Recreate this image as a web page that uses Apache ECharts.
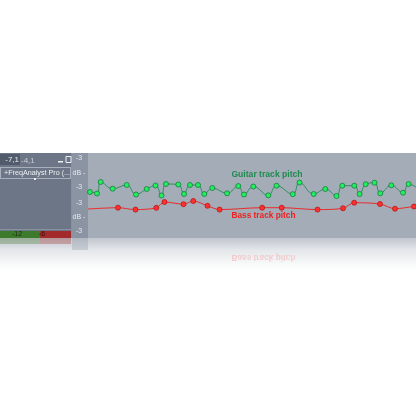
<!DOCTYPE html>
<html><head><meta charset="utf-8">
<script src="https://cdn.jsdelivr.net/npm/echarts@6/dist/echarts.min.js"></script>
<style>html,body{margin:0;padding:0;background:#fff}#c{width:416px;height:416px}</style>
</head><body><div id="c"></div>
<script>
// time positions (arbitrary units) and pitch values (arbitrary units)
var guitarTime  = [0, 2, 9, 12.7, 24.7, 38.7, 48, 58.7, 67.5, 73.5, 78, 90.3, 96, 102, 110, 116.3, 124.3, 139, 150.3, 156, 165.3, 180.3, 188.5, 204.8, 211.5, 225.7, 237.3, 248.5, 254.3, 266.3, 271.6, 277.7, 286.5, 292.3, 303.3, 315, 320.6, 328];
var guitarPitch = [44.5, 45, 43.5, 55, 48.3, 52, 42.5, 48, 51.5, 41.5, 53, 52.5, 43, 52, 52, 43, 49, 43.7, 51, 42.5, 50.5, 41.7, 51.3, 42.8, 54.5, 43, 48, 41, 51.3, 51.3, 43, 52.8, 54.3, 43.7, 51.7, 44.3, 53, 50];
var bassTime  = [0, 30, 47.5, 68.3, 76.5, 95.5, 105.3, 119.5, 131.6, 174.2, 193.7, 229.5, 255, 266.2, 292, 307, 326, 328];
var bassPitch = [28, 29.3, 27.4, 29.2, 35, 32.8, 36, 31.2, 27.4, 29.3, 29.3, 27.4, 28.7, 34.3, 33, 28.3, 30.5, 30.6];
var guitarLabel = 'Guitar track pitch';
var bassLabel = 'Bass track pitch';
var stripLabels = ['-3', 'dB -', '-3', '-3', 'dB -', '-3'];

function pts(t, v, first, last) {
  return t.map(function (x, i) {
    var d = {value: [x, v[i]]};
    if ((first && i === 0) || (last && i === t.length - 1)) d.symbol = 'none';
    return d;
  });
}

var chart = echarts.init(document.getElementById('c'), null, {renderer: 'canvas'});
var stripY = [158, 173, 187, 203, 217, 231];
var graphics = [
  {type: 'rect', shape: {x: 0, y: 238, width: 416, height: 34}, silent: true, z: 1,
   style: {fill: new echarts.graphic.LinearGradient(0, 0, 0, 1, [
     {offset: 0, color: '#c1c6ce'}, {offset: 0.35, color: '#e3e6ea'}, {offset: 0.8, color: '#fafbfb'}, {offset: 1, color: '#ffffff'}])}},
  {type: 'rect', shape: {x: 0, y: 238, width: 40, height: 6}, z: 2, style: {fill: 'rgba(80,130,60,0.35)'}},
  {type: 'rect', shape: {x: 40, y: 238, width: 31, height: 6}, z: 2, style: {fill: 'rgba(170,60,60,0.35)'}},
  {type: 'rect', shape: {x: 0, y: 153, width: 72, height: 85}, z: 1, style: {fill: '#6c7686'}},
  {type: 'rect', shape: {x: 71, y: 153, width: 1, height: 85}, z: 2, style: {fill: '#8791a0'}},
  {type: 'rect', shape: {x: 0, y: 154, width: 20, height: 11}, z: 2, style: {fill: '#525b6b'}},
  {type: 'text', x: 19, y: 159.5, z: 3, style: {text: '-7,1', fill: '#e6e9ee', font: '8px "Liberation Sans"', textAlign: 'right', textVerticalAlign: 'middle'}},
  {type: 'text', x: 21, y: 160.5, z: 3, style: {text: '-4,1', fill: '#c6ccd5', font: '8px "Liberation Sans"', textAlign: 'left', textVerticalAlign: 'middle'}},
  {type: 'rect', shape: {x: 58, y: 161, width: 5, height: 1.5}, z: 3, style: {fill: '#f0f2f5'}},
  {type: 'rect', shape: {x: 66, y: 156.5, width: 5, height: 6}, z: 3, style: {fill: 'none', stroke: '#f0f2f5', lineWidth: 1}},
  {type: 'rect', shape: {x: 0.5, y: 167.5, width: 70, height: 11}, z: 3, style: {fill: 'none', stroke: '#e8ebf0', lineWidth: 1, lineDash: [1, 1]}},
  {type: 'text', x: 37, y: 173, z: 3, style: {text: '+FreqAnalyst Pro (...', fill: '#eef0f4', font: '7.2px "Liberation Sans"', textAlign: 'center', textVerticalAlign: 'middle'}},
  {type: 'rect', shape: {x: 34, y: 178, width: 2, height: 2}, z: 3, style: {fill: '#eef0f4'}},
  {type: 'rect', shape: {x: 0, y: 229, width: 72, height: 1}, z: 2, style: {fill: '#8791a0'}},
  {type: 'rect', shape: {x: 0, y: 231, width: 40, height: 7}, z: 2, style: {fill: '#3d7a2c'}},
  {type: 'rect', shape: {x: 40, y: 231, width: 31, height: 7}, z: 2, style: {fill: '#a22a2a'}},
  {type: 'text', x: 17, y: 234.5, z: 3, style: {text: '-12', fill: '#1a2a14', font: '7px "Liberation Sans"', textAlign: 'center', textVerticalAlign: 'middle'}},
  {type: 'text', x: 42, y: 234.5, z: 3, style: {text: '-6', fill: '#2a1010', font: '7px "Liberation Sans"', textAlign: 'center', textVerticalAlign: 'middle'}},
  {type: 'rect', shape: {x: 72, y: 153, width: 16, height: 85}, z: 1, style: {fill: '#8a94a3'}},
  {type: 'rect', shape: {x: 72, y: 238, width: 16, height: 12}, z: 2, style: {fill: 'rgba(150,158,170,0.35)'}},
  {type: 'text', x: 267, y: 174.5, z: 100, style: {text: guitarLabel, fill: '#1f8a4e', font: 'bold 8.6px "Liberation Sans"', textAlign: 'center', textVerticalAlign: 'middle'}},
  {type: 'text', x: 263.5, y: 215.5, z: 100, style: {text: bassLabel, fill: '#f01e1e', font: 'bold 8.3px "Liberation Sans"', textAlign: 'center', textVerticalAlign: 'middle'}},
  {type: 'text', x: 263.5, y: 257, scaleY: -1, z: 3, style: {text: bassLabel, fill: 'rgba(255,90,90,0.25)', font: 'bold 8.3px "Liberation Sans"', textAlign: 'center', textVerticalAlign: 'middle'}}
];
stripLabels.forEach(function (s, i) {
  graphics.push({type: 'text', x: 79, y: stripY[i], z: 3, style: {text: s, fill: '#e4e8ee', font: '7px "Liberation Sans"', textAlign: 'center', textVerticalAlign: 'middle'}});
});

chart.setOption({
  animation: false,
  backgroundColor: '#ffffff',
  grid: {left: 88, top: 153, width: 328, height: 85, show: true, backgroundColor: '#a3acb7', borderWidth: 0},
  xAxis: {type: 'value', min: 0, max: 328, show: false},
  yAxis: {type: 'value', min: -1, max: 84, show: false},
  graphic: graphics,
  series: [
    {type: 'line', data: pts(guitarTime, guitarPitch, true, true), smooth: 0.45, symbol: 'circle', symbolSize: 5,
     lineStyle: {color: '#2f8f5e', width: 1}, itemStyle: {color: '#22ee5e', borderColor: '#1b7a42', borderWidth: 0.8}, z: 5},
    {type: 'line', data: pts(bassTime, bassPitch, true, true), smooth: 0.3, symbol: 'circle', symbolSize: 5,
     lineStyle: {color: '#ea2b2b', width: 1}, itemStyle: {color: '#ff3030', borderColor: '#b51818', borderWidth: 0.8}, z: 5}
  ]
});
</script></body></html>
